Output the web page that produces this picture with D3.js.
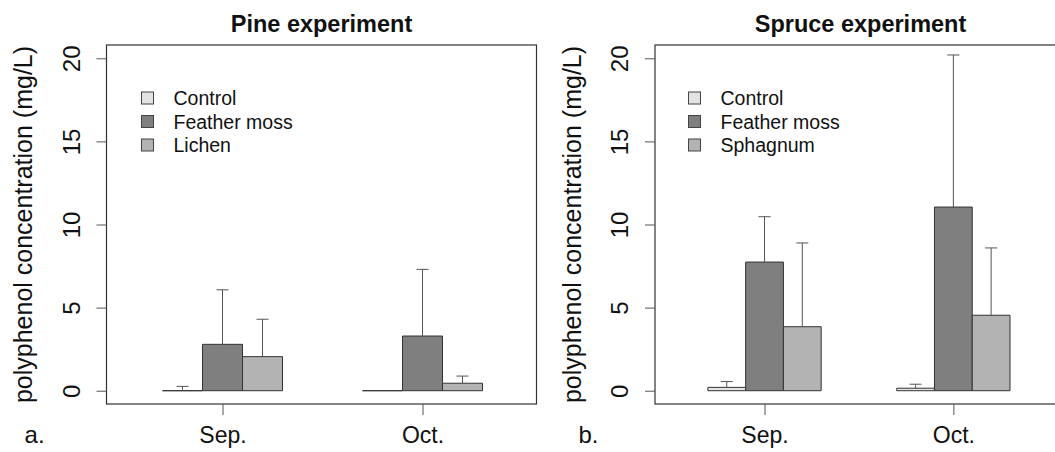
<!DOCTYPE html>
<html>
<head>
<meta charset="utf-8">
<script src="https://cdn.jsdelivr.net/npm/d3@7/dist/d3.min.js"></script>
<style>
  html, body { margin: 0; padding: 0; background: #ffffff; }
  svg { display: block; font-family: "Liberation Sans", Arial, sans-serif; }
</style>
</head>
<body>
<svg id="chart" width="1055" height="452"></svg>
<script>
// ---- data ----
const months = ["Sep.", "Oct."];
const pineSeries = ["Control", "Feather moss", "Lichen"];
const spruceSeries = ["Control", "Feather moss", "Sphagnum"];
// means [month][series]
const pineMeans = [[0, 2.79, 2.05], [0, 3.29, 0.45]];
const pineErrors = [[0.26, 3.28, 2.25], [0, 4.01, 0.43]];
const spruceMeans = [[0.20, 7.74, 3.85], [0.15, 11.05, 4.54]];
const spruceErrors = [[0.35, 2.73, 5.04], [0.24, 9.15, 4.05]];
const yTicks = [0, 5, 10, 15, 20];
const yLabel = "polyphenol concentration (mg/L)";
const titles = ["Pine experiment", "Spruce experiment"];
const panelLetters = ["a.", "b."];

// ---- styles ----
const fills = ["#e3e3e3", "#7f7f7f", "#b3b3b3"];
const svg = d3.select("#chart");

const y = d3.scaleLinear().domain([-0.8, 20.8]).range([404, 45]);

const panels = [
  { title: titles[0], letter: panelLetters[0], series: pineSeries, means: pineMeans, errs: pineErrors,
    left: 106.5, right: 536.5, titleX: 321.5, letterX: 34.6, legendX: 141.5 },
  { title: titles[1], letter: panelLetters[1], series: spruceSeries, means: spruceMeans, errs: spruceErrors,
    left: 655, right: 1061, titleX: 860.5, letterX: 588.4, legendX: 688.5 }
];

panels.forEach(p => {
  const g = svg.append("g");
  // x in "bar units": each group has 3 bars, groups 5 units apart
  const x = d3.scaleLinear().domain([-0.4, 10.35]).range([p.left, p.right]);
  const barLeft = (m, s) => 1 + m * 5 + s;

  // bars
  p.means.forEach((row, m) => {
    row.forEach((v, s) => {
      const x0 = x(barLeft(m, s)), x1 = x(barLeft(m, s) + 1);
      const y0 = y(0), y1 = y(v);
      g.append("path")
        .attr("d", `M${x0},${y0}V${y1}H${x1}V${y0}Z`)
        .attr("fill", fills[s])
        .attr("stroke", "#333")
        .attr("stroke-width", 1);
    });
  });

  // error bars (upper only)
  p.means.forEach((row, m) => {
    row.forEach((v, s) => {
      const e = p.errs[m][s];
      if (e <= 0) return;
      const cx = x(barLeft(m, s) + 0.5);
      const yt = y(v + e);
      g.append("line").attr("x1", cx).attr("x2", cx).attr("y1", y(v)).attr("y2", yt)
        .attr("stroke", "#555").attr("stroke-width", 1);
      g.append("line").attr("x1", cx - 6).attr("x2", cx + 6).attr("y1", yt).attr("y2", yt)
        .attr("stroke", "#555").attr("stroke-width", 1);
    });
  });

  // box
  g.append("rect")
    .attr("x", p.left).attr("y", y.range()[1])
    .attr("width", p.right - p.left).attr("height", y.range()[0] - y.range()[1])
    .attr("fill", "none").attr("stroke", "#333").attr("stroke-width", 1.2);

  // y axis
  const yAxis = d3.axisLeft(y).tickValues(yTicks).tickSize(10).tickPadding(0).tickFormat(d3.format("d"));
  const ya = g.append("g").attr("transform", `translate(${p.left},0)`).call(yAxis);
  ya.select(".domain").remove();
  ya.selectAll(".tick line").attr("stroke", "#555");
  ya.selectAll(".tick text")
    .attr("x", null).attr("dy", null)
    .attr("transform", "translate(-27,0) rotate(-90)")
    .attr("text-anchor", "middle")
    .attr("font-size", 24)
    .attr("fill", "#111")
    .attr("font-family", "Liberation Sans, Arial, sans-serif");

  // x axis (ticks at group centres)
  const xGroup = d3.scaleOrdinal().domain(months).range(months.map((_, m) => x(barLeft(m, 1) + 0.5)));
  const xAxis = d3.axisBottom(xGroup).tickSize(11).tickPadding(0);
  const xa = g.append("g").attr("transform", `translate(0,${y.range()[0]})`).call(xAxis);
  xa.select(".domain").remove();
  xa.selectAll(".tick line").attr("stroke", "#555");
  xa.selectAll(".tick text")
    .attr("y", 39).attr("dy", null)
    .attr("font-size", 23)
    .attr("fill", "#111")
    .attr("font-family", "Liberation Sans, Arial, sans-serif");

  // y label
  g.append("text")
    .attr("transform", `translate(${p.left - 74.5},${(y(0) + y(20)) / 2}) rotate(-90)`)
    .attr("text-anchor", "middle")
    .attr("font-size", 25)
    .attr("fill", "#111")
    .text(yLabel);

  // title
  g.append("text")
    .attr("x", p.titleX).attr("y", 31.7)
    .attr("text-anchor", "middle")
    .attr("font-size", 23.5)
    .attr("font-weight", "bold")
    .attr("fill", "#111")
    .text(p.title);

  // panel letter
  g.append("text")
    .attr("x", p.letterX).attr("y", 443)
    .attr("text-anchor", "middle")
    .attr("font-size", 24)
    .attr("fill", "#111")
    .text(p.letter);

  // legend
  const leg = g.append("g");
  p.series.forEach((name, s) => {
    const cy = 98 + s * 23.5;
    leg.append("rect")
      .attr("x", p.legendX).attr("y", cy - 6)
      .attr("width", 12).attr("height", 12)
      .attr("fill", fills[s]).attr("stroke", "#444").attr("stroke-width", 1);
    leg.append("text")
      .attr("x", p.legendX + 32).attr("y", cy + 7)
      .attr("font-size", 19.5)
      .attr("fill", "#111")
      .text(name);
  });
});
</script>
</body>
</html>
